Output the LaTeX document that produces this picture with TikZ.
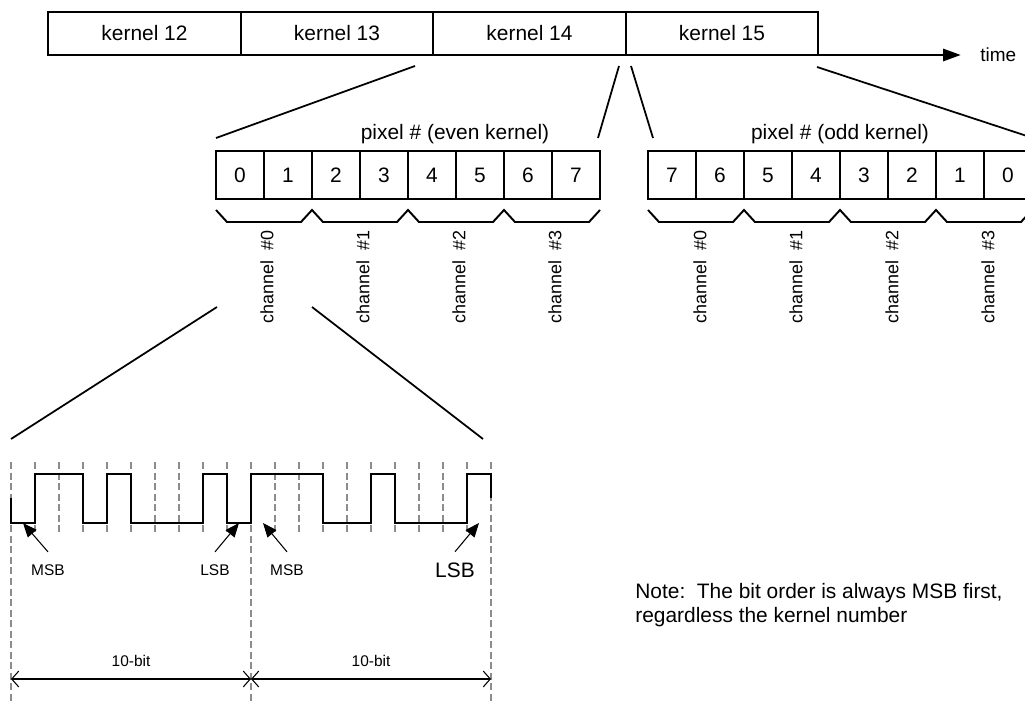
\documentclass[tikz,border=0pt]{standalone}
\usepackage{fontspec}
\setmainfont{Liberation Sans}
\usepackage{tikz}
\usetikzlibrary{arrows.meta,positioning}

\begin{document}
\begin{tikzpicture}[
  x=2cm,y=2cm,
  every node/.style={font=\fontsize{11.9}{13.7}\selectfont},
  kbox/.style={draw,line width=1.1pt,outer sep=0pt,inner sep=0pt,
    minimum width=3.85cm,minimum height=0.86cm},
  cell/.style={draw,line width=1.1pt,outer sep=0pt,inner sep=0pt,minimum size=0.96cm},
  zoomline/.style={line width=1pt},
  brace/.style={line width=1.1pt,line join=miter},
  chan/.style={rotate=90,anchor=east,inner sep=0pt,font=\fontsize{10.2}{12}\selectfont},
  bitline/.style={draw=black!45,line width=0.6pt,dash pattern=on 4pt off 2pt},
  wave/.style={line width=1.1pt,line join=miter},
  ptr/.style={-{Triangle[length=8pt,width=6.5pt]},line width=0.6pt},
  dimline/.style={{Straight Barb[length=4pt,width=9pt]}-{Straight Barb[length=4pt,width=9pt]},line width=0.6pt},
  lbl/.style={inner sep=0pt,font=\fontsize{8.8}{10.5}\selectfont}
]
  \useasboundingbox (0,0) rectangle (10.25,7.07);

  % kernel sequence on the time axis
  \node[kbox] (k12) at (1.445,6.735) {kernel 12};
  \node[kbox,right=0pt of k12] (k13) {kernel 13};
  \node[kbox,right=0pt of k13] (k14) {kernel 14};
  \node[kbox,right=0pt of k14] (k15) {kernel 15};
  \node[anchor=west,inner sep=0pt,font=\fontsize{10.8}{12}\selectfont] (time) at (9.80,6.52) {time};
  \draw[-{Triangle[length=10pt,width=7pt]},line width=1.1pt,shorten >=11pt] (k15.south east) -- (time.west);

  % pixel order inside one kernel
  \foreach \p [count=\i from 0] in {0,...,7}
    \node[cell] (e\i) at (2.40+0.48*\i,5.32) {\p};
  \foreach \p [count=\i from 0] in {7,6,...,0}
    \node[cell] (o\i) at (6.72+0.48*\i,5.32) {\p};
  \node (evenlbl) at (4.55,5.73) {pixel \# (even kernel)};
  \node (oddlbl) at (8.40,5.73) {pixel \# (odd kernel)};

  \draw[zoomline] (4.15,6.41) -- (2.16,5.69);
  \draw[zoomline] (6.19,6.41) -- (5.98,5.69);
  \draw[zoomline] (6.31,6.41) -- (6.53,5.69);
  \draw[zoomline] (8.17,6.40) -- (10.33,5.69);

  % channel groups
  \draw[brace] (2.16,4.97) \foreach \x in {2.16,3.12,4.08,5.04}
    {-- (\x+0.11,4.85) -- (\x+0.85,4.85) -- (\x+0.96,4.97)};
  \draw[brace] (6.48,4.97) \foreach \x in {6.48,7.44,8.40,9.36}
    {-- (\x+0.11,4.85) -- (\x+0.85,4.85) -- (\x+0.96,4.97)};
  \foreach \c in {0,...,3} {
    \node[chan] (ce\c) at (2.67+0.96*\c,4.77) {channel~~\#\c};
    \node[chan] (co\c) at (7.00+0.96*\c,4.77) {channel~~\#\c};
  }

  \draw[zoomline] (2.17,4.00) -- (0.11,2.68);
  \draw[zoomline] (3.12,4.00) -- (4.83,2.68);

  % serial bits of channel #0
  \foreach \k in {0,...,20}
    \draw[bitline] (0.11+0.24*\k,2.45) -- (0.11+0.24*\k,1.74);
  \foreach \x in {0.11,2.51,4.91}
    \draw[bitline] (\x,2.45) -- (\x,0.04);
  \draw[wave] (0.11,2.09) -- (0.11,1.84) -- (0.35,1.84) -- (0.35,2.33) -- (0.83,2.33)
    -- (0.83,1.84) -- (1.07,1.84) -- (1.07,2.33) -- (1.31,2.33) -- (1.31,1.84)
    -- (2.03,1.84) -- (2.03,2.33) -- (2.27,2.33) -- (2.27,1.84) -- (2.51,1.84)
    -- (2.51,2.33) -- (3.23,2.33) -- (3.23,1.84) -- (3.71,1.84) -- (3.71,2.33)
    -- (3.95,2.33) -- (3.95,1.84) -- (4.67,1.84) -- (4.67,2.33) -- (4.91,2.33)
    -- (4.91,2.09);

  \coordinate (msbtipA) at (0.23,1.84);
  \coordinate (lsbtipA) at (2.39,1.84);
  \coordinate (msbtipB) at (2.63,1.84);
  \coordinate (lsbtipB) at (4.79,1.84);
  \node[lbl] (msbA) at (0.48,1.37) {MSB};
  \node[lbl] (lsbA) at (2.15,1.37) {LSB};
  \node[lbl] (msbB) at (2.87,1.37) {MSB};
  \node[inner sep=0pt] (lsbB) at (4.55,1.37) {LSB};
  \draw[ptr] ([yshift=7pt]msbA.north) -- (msbtipA);
  \draw[ptr] ([yshift=7pt]lsbA.north) -- (lsbtipA);
  \draw[ptr] ([yshift=7pt]msbB.north) -- (msbtipB);
  \draw[ptr] ([yshift=6pt]lsbB.north) -- (lsbtipB);

  \coordinate (frameA) at (0.11,0.28);
  \coordinate (frameB) at (2.51,0.28);
  \coordinate (frameC) at (4.91,0.28);
  \draw[dimline] (frameA) -- node[lbl,above=7pt] (bitsA) {10-bit} (frameB);
  \draw[dimline] (frameB) -- node[lbl,above=7pt] (bitsB) {10-bit} (frameC);

  \node[anchor=west,align=left,inner sep=0pt] (note) at (6.35,1.02)
    {Note:~~The bit order is always MSB first,\\regardless the kernel number};
\end{tikzpicture}
\end{document}
